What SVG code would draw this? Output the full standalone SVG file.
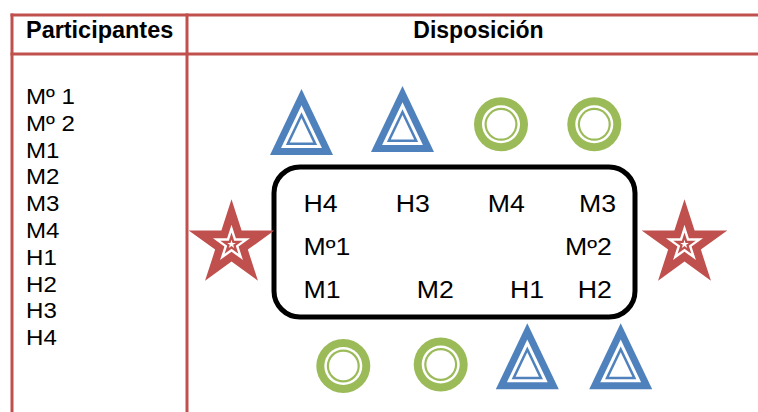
<svg xmlns="http://www.w3.org/2000/svg" xmlns:xlink="http://www.w3.org/1999/xlink" width="758" height="412" viewBox="0 0 758 412">
<style>
  .grid { stroke: #C0504D; stroke-width: 3; fill: none; }
  .hdr { font-family: "Liberation Sans", Arial, sans-serif; font-weight: bold; font-size: 23px; fill: #000; }
  .txt { font-family: "Liberation Sans", Arial, sans-serif; font-size: 22.5px; fill: #000; }
  .box { font-family: "Liberation Sans", Arial, sans-serif; font-size: 23px; fill: #000; }
  .blue { fill: #4F81BD; }
  .green { fill: #9BBB59; }
  .red { fill: #C0504D; }
  .white { fill: #FFFFFF; }
</style>
<defs>
  <polygon id="star" points="0,-1 0.2245,-0.309 0.9511,-0.309 0.3633,0.118 0.5878,0.809 0,0.382 -0.5878,0.809 -0.3633,0.118 -0.9511,-0.309 -0.2245,-0.309"/>
  <polygon id="tri" points="0,-46.13 31.5,19.87 -31.5,19.87"/>
  <g id="triShape">
    <use xlink:href="#tri" href="#tri" class="blue"/>
    <use xlink:href="#tri" href="#tri" class="white" transform="scale(0.648)"/>
    <use xlink:href="#tri" href="#tri" class="blue" transform="scale(0.497)"/>
    <use xlink:href="#tri" href="#tri" class="white" transform="scale(0.371)"/>
  </g>
  <g id="ringShape">
    <circle r="27" class="green"/>
    <circle r="19" class="white"/>
    <circle r="16.5" class="green"/>
    <circle r="14.3" class="white"/>
  </g>
  <g id="starShape">
    <use xlink:href="#star" href="#star" class="red" transform="scale(45)"/>
    <use xlink:href="#star" href="#star" class="white" transform="scale(19.5)"/>
    <use xlink:href="#star" href="#star" class="red" transform="scale(11.8)"/>
    <use xlink:href="#star" href="#star" class="white" transform="scale(4.6)"/>
  </g>
</defs>
<rect width="758" height="412" fill="#FFFFFF"/>

<g id="table">
  <line class="grid" x1="10.5" y1="15" x2="758" y2="15"/>
  <line class="grid" x1="10.5" y1="54" x2="758" y2="54"/>
  <line class="grid" x1="12" y1="13.5" x2="12" y2="412"/>
  <line class="grid" x1="187" y1="13.5" x2="187" y2="412"/>
  <text class="hdr" x="26" y="38" transform="translate(26,0) scale(1.02,1) translate(-26,0)">Participantes</text>
  <text class="hdr" x="478.5" y="38" text-anchor="middle">Disposición</text>
</g>

<g id="participants-list" class="txt" transform="translate(26,0) scale(1.07,1)">
  <text x="0" y="104">Mº 1</text>
  <text x="0" y="130.8">Mº 2</text>
  <text x="0" y="157.6">M1</text>
  <text x="0" y="184.4">M2</text>
  <text x="0" y="211.2">M3</text>
  <text x="0" y="238">M4</text>
  <text x="0" y="264.8">H1</text>
  <text x="0" y="291.6">H2</text>
  <text x="0" y="318.4">H3</text>
  <text x="0" y="345.2">H4</text>
</g>

<g id="table-box">
  <rect x="274" y="167" width="361" height="150" rx="26" ry="26" fill="none" stroke="#000" stroke-width="5"/>
  <g class="box">
    <text transform="translate(303.5,211.7) scale(1.16,1)">H4</text>
    <text transform="translate(395.7,211.7) scale(1.16,1)">H3</text>
    <text transform="translate(487.8,211.7) scale(1.16,1)">M4</text>
    <text transform="translate(579,211.7) scale(1.16,1)">M3</text>
    <text transform="translate(303.5,255) scale(1.16,1)">Mº1</text>
    <text transform="translate(565,255) scale(1.16,1)">Mº2</text>
    <text transform="translate(303.5,298.3) scale(1.16,1)">M1</text>
    <text transform="translate(416.8,298.3) scale(1.16,1)">M2</text>
    <text transform="translate(510,298.3) scale(1.16,1)">H1</text>
    <text transform="translate(577.7,298.3) scale(1.16,1)">H2</text>
  </g>
</g>

<g id="triangle-top-1"><use xlink:href="#triShape" href="#triShape" transform="translate(301.5,135.1)"/></g>
<g id="triangle-top-2"><use xlink:href="#triShape" href="#triShape" transform="translate(402.5,132.1)"/></g>
<g id="circle-top-1"><use xlink:href="#ringShape" href="#ringShape" transform="translate(501,124.3)"/></g>
<g id="circle-top-2"><use xlink:href="#ringShape" href="#ringShape" transform="translate(594.3,124.3)"/></g>
<g id="star-left"><use xlink:href="#starShape" href="#starShape" transform="translate(231.5,244.3)"/></g>
<g id="star-right"><use xlink:href="#starShape" href="#starShape" transform="translate(684.5,244.3)"/></g>
<g id="circle-bottom-1"><use xlink:href="#ringShape" href="#ringShape" transform="translate(343.3,366)"/></g>
<g id="circle-bottom-2"><use xlink:href="#ringShape" href="#ringShape" transform="translate(440.7,364.5)"/></g>
<g id="triangle-bottom-1"><use xlink:href="#triShape" href="#triShape" transform="translate(527.3,369.4)"/></g>
<g id="triangle-bottom-2"><use xlink:href="#triShape" href="#triShape" transform="translate(620.7,369.4)"/></g>
</svg>
